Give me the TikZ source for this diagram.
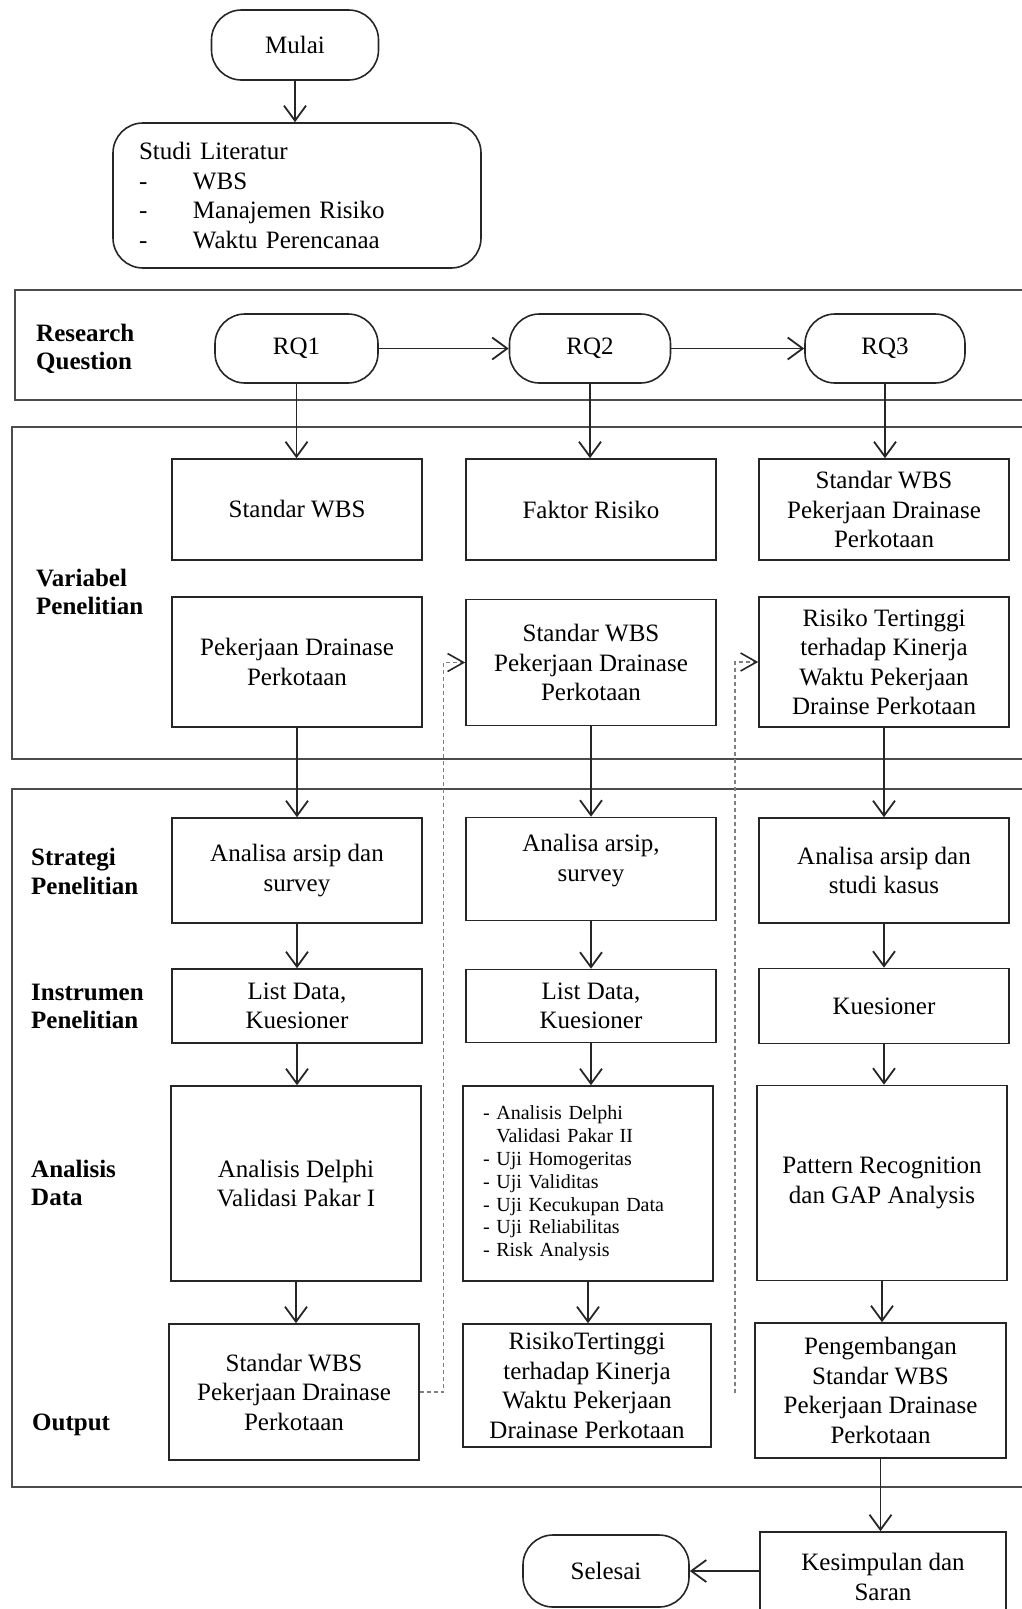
\documentclass[tikz,border=0pt]{standalone}
\usepackage{fontspec}
\setmainfont{Liberation Serif}
\usetikzlibrary{arrows.meta}
\begin{document}
\begin{tikzpicture}[x=1pt,y=-1pt,
  txt/.style={font=\fontsize{25}{29.5}\selectfont},
  box/.style={txt, draw=black!85, line width=1.6pt, minimum width=250pt, align=center, inner sep=4pt},
  term/.style={box, rounded corners=30pt, minimum height=69pt},
  lab/.style={anchor=west, align=left, inner sep=0pt, font=\bfseries\fontsize{25}{28.5}\selectfont},
  frame/.style={draw=black!70, line width=2pt},
  arr/.style={draw=black!85, line width=1.8pt, -{Straight Barb[length=15pt,width=22pt]}},
  darr/.style={draw=black!50, line width=1.2pt, dash pattern=on 4pt off 3pt,
     -{Straight Barb[length=16pt,width=18pt,line width=1.6pt,color=black!85]}}
]
\useasboundingbox (0,0) rectangle (1022,1609);
\clip (0,0) rectangle (1022,1609);

% frames
\draw[frame] (1024,290) -- (15,290) -- (15,400) -- (1024,400);
\draw[frame] (1024,427) -- (12,427) -- (12,759) -- (1024,759);
\draw[frame] (1024,789) -- (12,789) -- (12,1487) -- (1024,1487);

% start
\node[term, minimum width=167pt, minimum height=70pt] (mulai) at (295,45) {Mulai};
\node[box, rounded corners=30pt, minimum height=145pt, text width=316pt, inner xsep=26pt, align=left] (studi) at (297,195.5)
  {Studi Literatur\\\makebox[54pt][l]{-}WBS\\\makebox[54pt][l]{-}Manajemen Risiko\\\makebox[54pt][l]{-}Waktu Perencanaa};
\draw[arr] (mulai.south) -- (mulai.south |- studi.north);

% labels
\node[lab] (lrq) at (36,349) {Research\\Question};
\node[lab] (lvar) at (36,592) {Variabel\\Penelitian};
\node[lab] (lstr) at (31,871.5) {Strategi\\Penelitian};
\node[lab] (lins) at (31,1006.5) {Instrumen\\Penelitian};
\node[lab] (lana) at (31,1183) {Analisis\\Data};
\node[lab] (lout) at (32,1425) {Output};

% research questions
\node[term, minimum width=163pt] (rq1) at (296.5,348.5) {RQ1};
\node[term, minimum width=161pt] (rq2) at (590,348.5) {RQ2};
\node[term, minimum width=160pt] (rq3) at (885,348.5) {RQ3};
\draw[arr] (rq1.east) -- (rq2.west);
\draw[arr] (rq2.east) -- (rq3.west);

% variabel penelitian
\node[box, minimum height=101pt] (v1a) at (297,509.5) {Standar WBS};
\node[box, minimum height=101pt] (v2a) at (591,509.5) {Faktor Risiko};
\node[box, minimum height=101pt] (v3a) at (884,509.5) {Standar WBS\\Pekerjaan Drainase\\Perkotaan};
\node[box, minimum height=130pt] (v1b) at (297,662) {Pekerjaan Drainase\\Perkotaan};
\node[box, minimum height=126pt] (v2b) at (591,662.5) {Standar WBS\\Pekerjaan Drainase\\Perkotaan};
\node[box, minimum height=130pt] (v3b) at (884,662) {Risiko Tertinggi\\terhadap Kinerja\\Waktu Pekerjaan\\Drainse Perkotaan};
\draw[arr] (rq1.south) -- (rq1.south |- v1a.north);
\draw[arr] (rq2.south) -- (rq2.south |- v2a.north);
\draw[arr] (rq3.south) -- (rq3.south |- v3a.north);

% strategi
\node[box, minimum height=105pt] (s1) at (297,870.5) {Analisa arsip dan\\survey};
\node[box, minimum height=103pt, text depth=22pt] (s2) at (591,869) {Analisa arsip,\\survey};
\node[box, minimum height=105pt] (s3) at (884,870.5) {Analisa arsip dan\\studi kasus};
\draw[arr] (v1b.south) -- (v1b.south |- s1.north);
\draw[arr] (v2b.south) -- (v2b.south |- s2.north);
\draw[arr] (v3b.south) -- (v3b.south |- s3.north);

% instrumen
\node[box, minimum height=74pt] (i1) at (297,1006) {List Data,\\Kuesioner};
\node[box, minimum height=73pt] (i2) at (591,1006) {List Data,\\Kuesioner};
\node[box, minimum height=75pt] (i3) at (884,1006) {Kuesioner};
\draw[arr] (s1.south) -- (s1.south |- i1.north);
\draw[arr] (s2.south) -- (s2.south |- i2.north);
\draw[arr] (s3.south) -- (s3.south |- i3.north);

% analisis
\node[box, minimum height=195pt] (a1) at (296,1183.5) {Analisis Delphi\\Validasi Pakar I};
\node[box, minimum height=195pt, text width=210pt, inner xsep=20pt, align=left,
      font=\fontsize{20}{22.8}\selectfont] (a2) at (588,1183.5)
  {- Analisis Delphi\\\phantom{- }Validasi Pakar II\\- Uji Homogeritas\\- Uji Validitas\\- Uji Kecukupan Data\\- Uji Reliabilitas\\- Risk Analysis};
\node[box, minimum height=195pt] (a3) at (882,1183) {Pattern Recognition\\dan GAP Analysis};
\draw[arr] (i1.south) -- (i1.south |- a1.north);
\draw[arr] (i2.south) -- (i2.south |- a2.north);
\draw[arr] (i3.south) -- (i3.south |- a3.north);

% output
\node[box, minimum height=136pt] (o1) at (294,1392) {Standar WBS\\Pekerjaan Drainase\\Perkotaan};
\node[box, minimum height=123pt, minimum width=248pt] (o2) at (587,1385.5) {RisikoTertinggi\\terhadap Kinerja\\Waktu Pekerjaan\\Drainase Perkotaan};
\node[box, minimum height=135pt, minimum width=251pt] (o3) at (880.5,1390.5) {Pengembangan\\Standar WBS\\Pekerjaan Drainase\\Perkotaan};
\draw[arr] (a1.south) -- (a1.south |- o1.north);
\draw[arr] (a2.south) -- (a2.south |- o2.north);
\draw[arr] (a3.south) -- (a3.south |- o3.north);

% dashed feedback connectors
\coordinate (d2) at (735,1393);
\draw[darr] (o1.east) -- ++(24,0) |- (v2b.west);
\draw[darr] (d2) |- (v3b.west);

% end
\node[box, minimum width=246pt, minimum height=90pt] (kes) at (883,1577) {Kesimpulan dan\\Saran};
\node[term, minimum width=166pt, minimum height=72pt] (sel) at (606,1571) {Selesai};
\draw[arr] (o3.south) -- (o3.south |- kes.north);
\draw[arr] (kes.west |- sel.east) -- (sel.east);
\end{tikzpicture}
\end{document}
